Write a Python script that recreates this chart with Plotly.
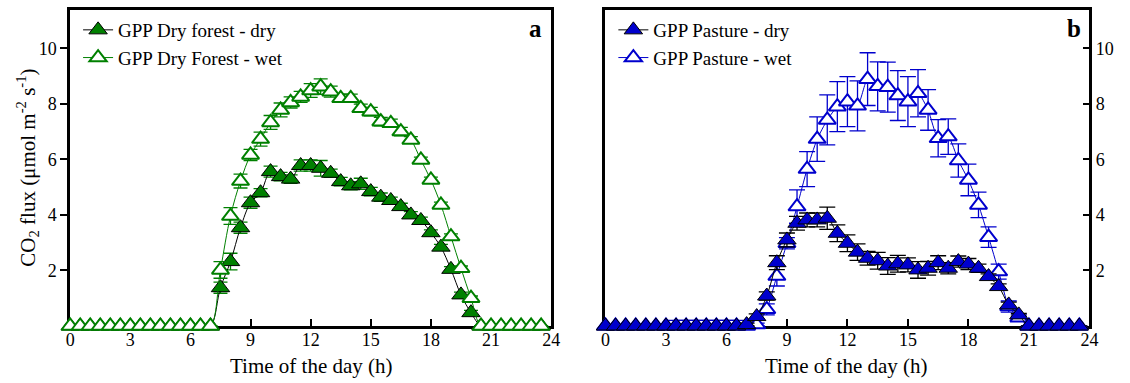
import plotly.graph_objects as go

hours = [i * 0.5 for i in range(48)]

forest_dry = [0]*15 + [1.38, 2.32, 3.54, 4.44, 4.80, 5.56, 5.38, 5.29, 5.78, 5.78, 5.68, 5.50, 5.20,
                       5.05, 5.12, 4.84, 4.64, 4.52, 4.30, 4.00, 3.80, 3.36, 2.84, 2.04, 1.12, 0.48] + [0]*7
forest_dry_err = [0]*15 + [0.2, 0.3, 0.2, 0.2, 0.15, 0.2, 0.15, 0.15, 0.2, 0.2, 0.28, 0.15, 0.15,
                           0.15, 0.2, 0.15, 0.15, 0.12, 0.12, 0.12, 0.12, 0.1, 0.1, 0.1, 0.1, 0.08] + [0]*7
forest_wet = [0]*15 + [2.02, 3.96, 5.22, 6.16, 6.73, 7.33, 7.78, 8.05, 8.25, 8.48, 8.62, 8.44, 8.20,
                       8.20, 7.84, 7.72, 7.36, 7.30, 7.00, 6.70, 5.98, 5.26, 4.36, 3.22, 2.08, 1.00] + [0]*7
forest_wet_err = [0]*15 + [0.3, 0.3, 0.25, 0.2, 0.25, 0.25, 0.25, 0.2, 0.2, 0.25, 0.28, 0.2, 0.15,
                           0.15, 0.15, 0.15, 0.15, 0.15, 0.15, 0.12, 0.1, 0.1, 0.1, 0.1, 0.08, 0.08] + [0]*7

pasture_dry = [0]*14 + [0.05, 0.34, 1.08, 2.28, 3.10, 3.70, 3.82, 3.82, 3.88, 3.34, 2.98, 2.66, 2.44, 2.35,
                        2.16, 2.24, 2.20, 2.02, 2.08, 2.28, 2.08, 2.32, 2.23, 2.08, 1.78, 1.42, 0.76, 0.40] + [0]*6
pasture_dry_err = [0]*14 + [0.05, 0.1, 0.15, 0.25, 0.25, 0.25, 0.25, 0.25, 0.4, 0.3, 0.3, 0.3, 0.25, 0.3,
                            0.3, 0.3, 0.25, 0.3, 0.25, 0.25, 0.2, 0.2, 0.2, 0.15, 0.1, 0.1, 0.1, 0.05] + [0]*6
pasture_wet = [0]*15 + [0.05, 0.60, 1.80, 2.98, 4.30, 5.65, 6.73, 7.42, 7.90, 8.08, 7.93, 8.89, 8.63,
                        8.60, 8.30, 8.08, 8.38, 7.78, 6.76, 6.82, 5.96, 5.26, 4.36, 3.20, 1.96, 0.70, 0.30] + [0]*6
pasture_wet_err = [0]*7 + [0.2]*7 + [0] + [0.05, 0.2, 0.36, 0.2, 0.6, 0.63, 0.8, 0.9, 0.9, 0.9, 0.9, 0.95, 0.88,
                                           0.9, 0.9, 0.9, 0.85, 0.73, 0.67, 0.64, 0.6, 0.57, 0.46, 0.37, 0.27, 0.2, 0.1] + [0]*6

GREEN = "#008000"
BLUE = "#0000CD"
FONT = "Liberation Serif"

fig = go.Figure()

# Panel a
fig.add_trace(go.Scatter(
    x=hours, y=forest_dry, mode="lines+markers", name="GPP Dry forest - dry",
    line=dict(color="black", width=1, shape="spline", smoothing=1.0),
    marker=dict(symbol="triangle-up", size=16, color=GREEN, line=dict(color="black", width=1)),
    error_y=dict(type="data", array=forest_dry_err, visible=True, color=GREEN, thickness=1.3, width=7),
    xaxis="x", yaxis="y", legend="legend", cliponaxis=False))
fig.add_trace(go.Scatter(
    x=hours, y=forest_wet, mode="lines+markers", name="GPP Dry Forest - wet",
    line=dict(color=GREEN, width=1, shape="spline", smoothing=1.0),
    marker=dict(symbol="triangle-up", size=15, color="white", line=dict(color=GREEN, width=2)),
    error_y=dict(type="data", array=forest_wet_err, visible=True, color=GREEN, thickness=1.3, width=7),
    xaxis="x", yaxis="y", legend="legend", cliponaxis=False))

# Panel b
fig.add_trace(go.Scatter(
    x=hours, y=pasture_wet, mode="lines+markers", name="GPP Pasture - wet",
    line=dict(color=BLUE, width=1, shape="spline", smoothing=0.6),
    marker=dict(symbol="triangle-up", size=15, color="white", line=dict(color=BLUE, width=2)),
    error_y=dict(type="data", array=pasture_wet_err, visible=True, color=BLUE, thickness=1.3, width=8),
    xaxis="x2", yaxis="y2", legend="legend2", legendrank=2, cliponaxis=False))
fig.add_trace(go.Scatter(
    x=hours, y=pasture_dry, mode="lines+markers", name="GPP Pasture - dry",
    line=dict(color="black", width=1, shape="spline", smoothing=1.0),
    marker=dict(symbol="triangle-up", size=16, color=BLUE, line=dict(color="black", width=1)),
    error_y=dict(type="data", array=pasture_dry_err, visible=True, color="black", thickness=1.3, width=8),
    xaxis="x2", yaxis="y2", legend="legend2", legendrank=1, cliponaxis=False))

W, H = 1130, 383
ytop, ybot = 10, 326
ymax = 11.38
tickfont = dict(family=FONT, size=18, color="black")

common_x = dict(range=[0, 24], tickvals=list(range(0, 25, 3)), ticks="inside", ticklen=7, tickwidth=2,
                tickcolor="black", showline=True, linewidth=2.5, linecolor="black", mirror=True,
                showgrid=False, zeroline=False, tickfont=tickfont, layer="below traces",
                ticklabelstandoff=-4)
common_y = dict(range=[0, ymax], tickvals=[2, 4, 6, 8, 10], ticklen=7, tickwidth=2, tickcolor="black",
                showline=True, linewidth=2.5, linecolor="black", mirror=True, showgrid=False,
                zeroline=False, tickfont=tickfont, layer="below traces",
                domain=[1 - ybot / H, 1 - ytop / H])

legend_common = dict(xanchor="left", yanchor="top", bgcolor="rgba(0,0,0,0)",
                     font=dict(family=FONT, size=19, color="black"), tracegroupgap=0, itemwidth=30)

fig.update_layout(
    width=W, height=H, margin=dict(l=0, r=0, t=0, b=0),
    paper_bgcolor="white", plot_bgcolor="white",
    font=dict(family=FONT, size=19, color="black"),
    xaxis=dict(domain=[66 / W, 553 / W], anchor="y", **common_x),
    yaxis=dict(anchor="x", ticks="outside", **common_y),
    xaxis2=dict(domain=[608 / W, 1098 / W], anchor="y2", **common_x),
    yaxis2=dict(anchor="x2", side="right", ticks="inside", **common_y),
    legend=dict(x=74 / W, y=1 - 11 / H, **legend_common),
    legend2=dict(x=616 / W, y=1 - 11 / H, **legend_common),
    showlegend=True,
    annotations=[
        dict(text="Time of the day (h)", x=310 / W, y=1 - 366 / H, xref="paper", yref="paper",
             showarrow=False, font=dict(family=FONT, size=21), xanchor="center", yanchor="middle"),
        dict(text="Time of the day (h)", x=852 / W, y=1 - 366 / H, xref="paper", yref="paper",
             showarrow=False, font=dict(family=FONT, size=21), xanchor="center", yanchor="middle"),
        dict(text="CO<sub>2</sub> flux (μmol m<sup>-2</sup> s<sup>-1</sup>)", x=22 / W, y=1 - 168 / H,
             xref="paper", yref="paper", showarrow=False, textangle=-90,
             font=dict(family=FONT, size=21), xanchor="center", yanchor="middle"),
        dict(text="<b>a</b>", x=537 / W, y=1 - 28 / H, xref="paper", yref="paper", showarrow=False,
             font=dict(family=FONT, size=25), xanchor="center", yanchor="middle"),
        dict(text="<b>b</b>", x=1082 / W, y=1 - 28 / H, xref="paper", yref="paper", showarrow=False,
             font=dict(family=FONT, size=25), xanchor="center", yanchor="middle"),
    ],
)

fig.write_html("out.html")
